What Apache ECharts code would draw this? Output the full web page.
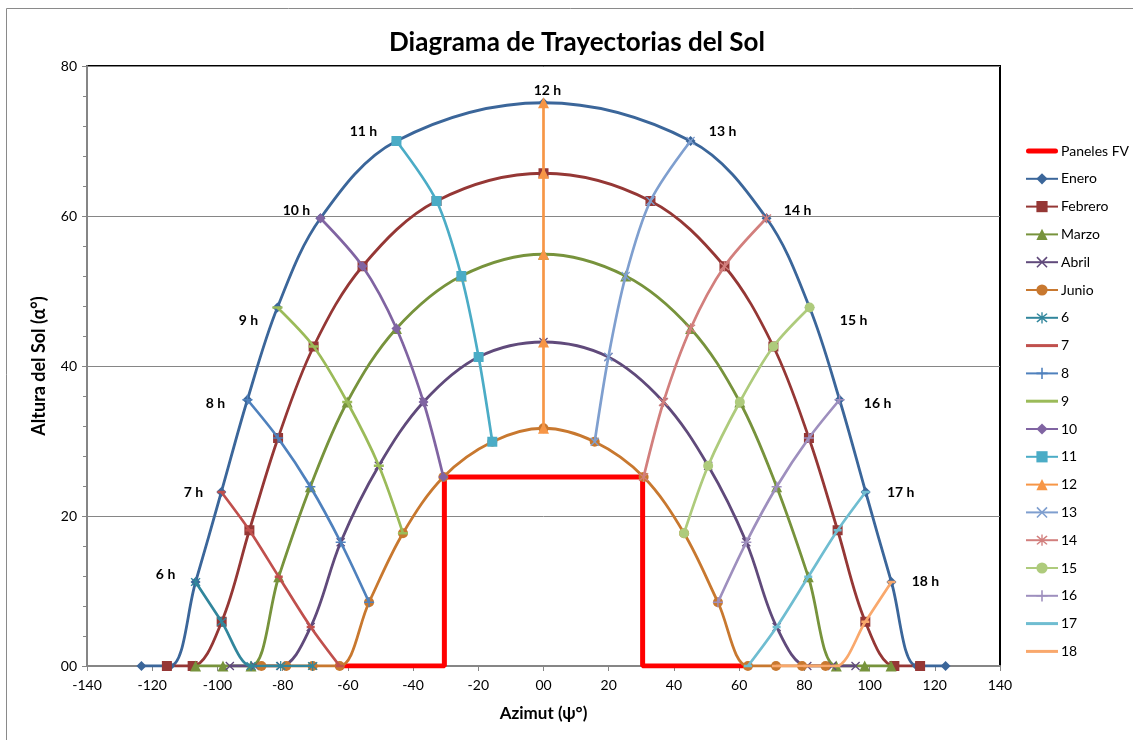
<!DOCTYPE html>
<html><head><meta charset="utf-8">
<script src="https://cdn.jsdelivr.net/npm/echarts@6/dist/echarts.min.js"></script>
<style>html,body{margin:0;padding:0;background:#fff}#c{width:1133px;height:740px}</style>
</head><body><div id="c"></div>
<script>
// ---------------- DATA ----------------
const hours = [4,5,6,7,8,9,10,11,12,13,14,15,16,17,18,19,20];
const eneroAz   = [-123.3,-114.5,-106.7,-98.8,-90.8,-81.6,-68.4,-45.1,0,45.1,68.4,81.6,90.8,98.8,106.7,114.5,123.3];
const eneroAlt  = [0,0,11.2,23.2,35.5,47.8,59.7,70,75.1,70,59.7,47.8,35.5,23.2,11.2,0,0];
const febreroAz = [-115.5,-107.6,-98.7,-90.2,-81.4,-70.5,-55.5,-32.8,0,32.8,55.5,70.5,81.4,90.2,98.7,107.6,115.5];
const febreroAlt= [0,0,5.9,18.1,30.4,42.6,53.3,62,65.7,62,53.3,42.6,30.4,18.1,5.9,0,0];
const marzoAz   = [-106.7,-98.3,-89.7,-81.2,-71.5,-60.2,-45.1,-25.2,0,25.2,45.1,60.2,71.5,81.2,89.8,98.5,106.6];
const marzoAlt  = [0,0,0,11.9,23.9,35.2,45,52,54.9,52,45,35.2,23.9,11.9,0,0,0];
const abrilAz   = [-96.2,-88.5,-80.6,-71.4,-62.2,-50.5,-36.8,-19.9,0,19.9,36.8,50.5,62.2,71.5,80.9,88.5,95.7];
const abrilAlt  = [0,0,0,5.2,16.5,26.7,35.2,41.2,43.2,41.2,35.2,26.7,16.5,5.2,0,0,0];
const junioAz   = [-86.5,-78.9,-70.8,-62.5,-53.5,-43.1,-30.7,-15.7,0,15.7,30.7,43.1,53.5,62.7,71.3,79.3,86.5];
const junioAlt  = [0,0,0,0,8.5,17.7,25.2,29.9,31.7,29.9,25.2,17.7,8.5,0,0,0,0];
const panelAz   = [-62.3,-30.4,-30.4,30.4,30.4,62.3];
const panelAlt  = [0,0,25.2,25.2,0,0];
const monthNames = ['Enero','Febrero','Marzo','Abril','Junio'];
const hourLineHours = [6,7,8,9,10,11,12,13,14,15,16,17,18];
const hourLabels = ['6 h','7 h','8 h','9 h','10 h','11 h','12 h','13 h','14 h','15 h','16 h','17 h','18 h'];
const xTickLabels = ['-140','-120','-100','-80','-60','-40','-20','00','20','40','60','80','100','120','140'];
const yTickLabels = ['00','20','40','60','80'];
const titleText = 'Diagrama de Trayectorias del Sol';
const xName = 'Azimut (\u03c8\u00b0)';
const yName = 'Altura del Sol (\u03b1\u00b0)';

// ---------------- STYLE ----------------
const FONT = 'Lato, "Open Sans", "Liberation Sans", sans-serif';
const X_PATH = 'path://M0,1L1,0L5,4L9,0L10,1L6,5L10,9L9,10L5,6L1,10L0,9L4,5Z';
const STAR_PATH = 'path://M0,1L1,0L5,4L9,0L10,1L6,5L10,9L9,10L5,6L1,10L0,9L4,5ZM4.4,-1L5.6,-1L5.6,11L4.4,11Z';
const PLUS_PATH = 'path://M4.3,0L5.7,0L5.7,4.3L10,4.3L10,5.7L5.7,5.7L5.7,10L4.3,10L4.3,5.7L0,5.7L0,4.3L4.3,4.3Z';
const DASH_PATH = 'path://M0,0L10,0L10,2L0,2Z';
const THIN_LINE_ICON = 'path://M0,0L32,0L32,3L0,3Z';
const THICK_LINE_ICON = 'path://M2.5,0L29.5,0A2.5,2.5,0,0,1,29.5,5L2.5,5A2.5,2.5,0,0,1,2.5,0Z';
const monthStyles = [
  {color:'#3B669A', symbol:'diamond', size:10},
  {color:'#953735', symbol:'rect', size:10},
  {color:'#77933C', symbol:'triangle', size:11},
  {color:'#604A7B', symbol:X_PATH, size:9},
  {color:'#C8782F', symbol:'circle', size:10}
];
const hourStyles = [
  {color:'#31869C', symbol:STAR_PATH, size:10},
  {color:'#C0504D', symbol:DASH_PATH, size:[8,2.5], plainLegend:true},
  {color:'#4F81BD', symbol:PLUS_PATH, size:10},
  {color:'#9BBB59', symbol:DASH_PATH, size:[10,2.5], plainLegend:true},
  {color:'#8064A2', symbol:'diamond', size:10},
  {color:'#4BACC6', symbol:'rect', size:10},
  {color:'#F79646', symbol:'triangle', size:11},
  {color:'#7F9FCF', symbol:X_PATH, size:9},
  {color:'#D27F7D', symbol:STAR_PATH, size:10},
  {color:'#AECB7C', symbol:'circle', size:10},
  {color:'#9E8FBE', symbol:PLUS_PATH, size:10},
  {color:'#6FBDD1', symbol:DASH_PATH, size:[8,2.5], plainLegend:true},
  {color:'#F9A86C', symbol:DASH_PATH, size:[8,2.5], plainLegend:true}
];
const labelOffsets = [[-30,-8],[-28,0],[-32,4],[-29,13],[-24,-8],[-33,-10],[4,-12],[32,-10],[31,-8],[44,13],[38,4],[35,0],[34,-1]];

// ---------------- BUILD ----------------
const monthAz = [eneroAz, febreroAz, marzoAz, abrilAz, junioAz];
const monthAlt = [eneroAlt, febreroAlt, marzoAlt, abrilAlt, junioAlt];
const series = [];
const legendData = [];
series.push({
  name:'Paneles FV', type:'line', symbol:'none', z:1,
  data: panelAz.map((x,i)=>[x, panelAlt[i]]),
  lineStyle:{color:'#FF0000', width:5}, itemStyle:{color:'#FF0000'}
});
legendData.push({name:'Paneles FV', icon:THICK_LINE_ICON});
monthNames.forEach((n,m)=>{
  const st = monthStyles[m];
  series.push({
    name:n, type:'line', smooth:0.35, z:2,
    symbol:st.symbol, symbolSize:st.size,
    data: monthAz[m].map((x,i)=>[x, monthAlt[m][i]]),
    lineStyle:{color:st.color, width:2.8}, itemStyle:{color:st.color}
  });
  legendData.push({name:n});
});
hourLineHours.forEach((h,k)=>{
  const idx = hours.indexOf(h);
  const st = hourStyles[k];
  const data = monthAz.map((arr,m)=>({value:[arr[idx], monthAlt[m][idx]]}));
  data[0].label = {show:true, formatter:hourLabels[k], position:'inside', offset:labelOffsets[k],
    color:'#000', fontWeight:'bold', fontSize:14, fontFamily:FONT};
  series.push({
    name:String(h), type:'line', smooth:0.3, z:3,
    symbol:st.symbol, symbolSize:st.size,
    data, lineStyle:{color:st.color, width:2.7}, itemStyle:{color:st.color}
  });
  legendData.push(st.plainLegend ? {name:String(h), icon:THIN_LINE_ICON} : {name:String(h)});
});

const chart = echarts.init(document.getElementById('c'), null, {renderer:'canvas'});
chart.setOption({
  animation:false,
  backgroundColor:'#fff',
  title:{text:titleText, left:572, textAlign:'center', top:25,
    textStyle:{fontSize:26, fontWeight:'bold', color:'#000', fontFamily:FONT}},
  graphic:[{type:'rect', shape:{x:6.5, y:8.5, width:1200, height:800}, style:{fill:'none', stroke:'#8a8a8a', lineWidth:1}, z:-10}],
  legend:{
    orient:'vertical', left:1020, top:139, itemWidth:32, itemHeight:14, itemGap:13.8,
    textStyle:{fontSize:14, color:'#000', fontFamily:FONT, padding:[0,0,0,-2]},
    data: legendData
  },
  grid:{left:87, right:133, top:66, bottom:74, show:true, borderColor:'#000', borderWidth:2, outerBoundsMode:'none'},
  xAxis:{
    type:'value', min:-140, max:140, interval:20,
    name:xName, nameLocation:'middle', nameGap:39,
    nameTextStyle:{fontSize:17, fontWeight:'bold', color:'#000', fontFamily:FONT},
    axisLine:{show:true, onZero:false, lineStyle:{color:'#868686', width:2}},
    axisTick:{show:true, inside:false, length:5, lineStyle:{color:'#868686'}},
    axisLabel:{margin:12, fontSize:14, color:'#000', fontFamily:FONT,
      formatter:(v)=>xTickLabels[Math.round((v+140)/20)]},
    splitLine:{show:false}
  },
  yAxis:{
    type:'value', min:0, max:80, interval:20,
    name:yName, nameLocation:'middle', nameGap:39, nameRotate:90,
    nameTextStyle:{fontSize:18, fontWeight:'bold', color:'#000', fontFamily:FONT},
    axisLine:{show:true, onZero:false, lineStyle:{color:'#868686', width:2}},
    axisTick:{show:true, inside:false, length:5, lineStyle:{color:'#868686'}},
    minorTick:{show:true, splitNumber:5, length:4, lineStyle:{color:'#868686'}},
    axisLabel:{margin:10, fontSize:14, color:'#000', fontFamily:FONT,
      formatter:(v)=>yTickLabels[Math.round(v/20)]},
    splitLine:{show:true, lineStyle:{color:'#868686', width:1}}
  },
  series
});
</script></body></html>
